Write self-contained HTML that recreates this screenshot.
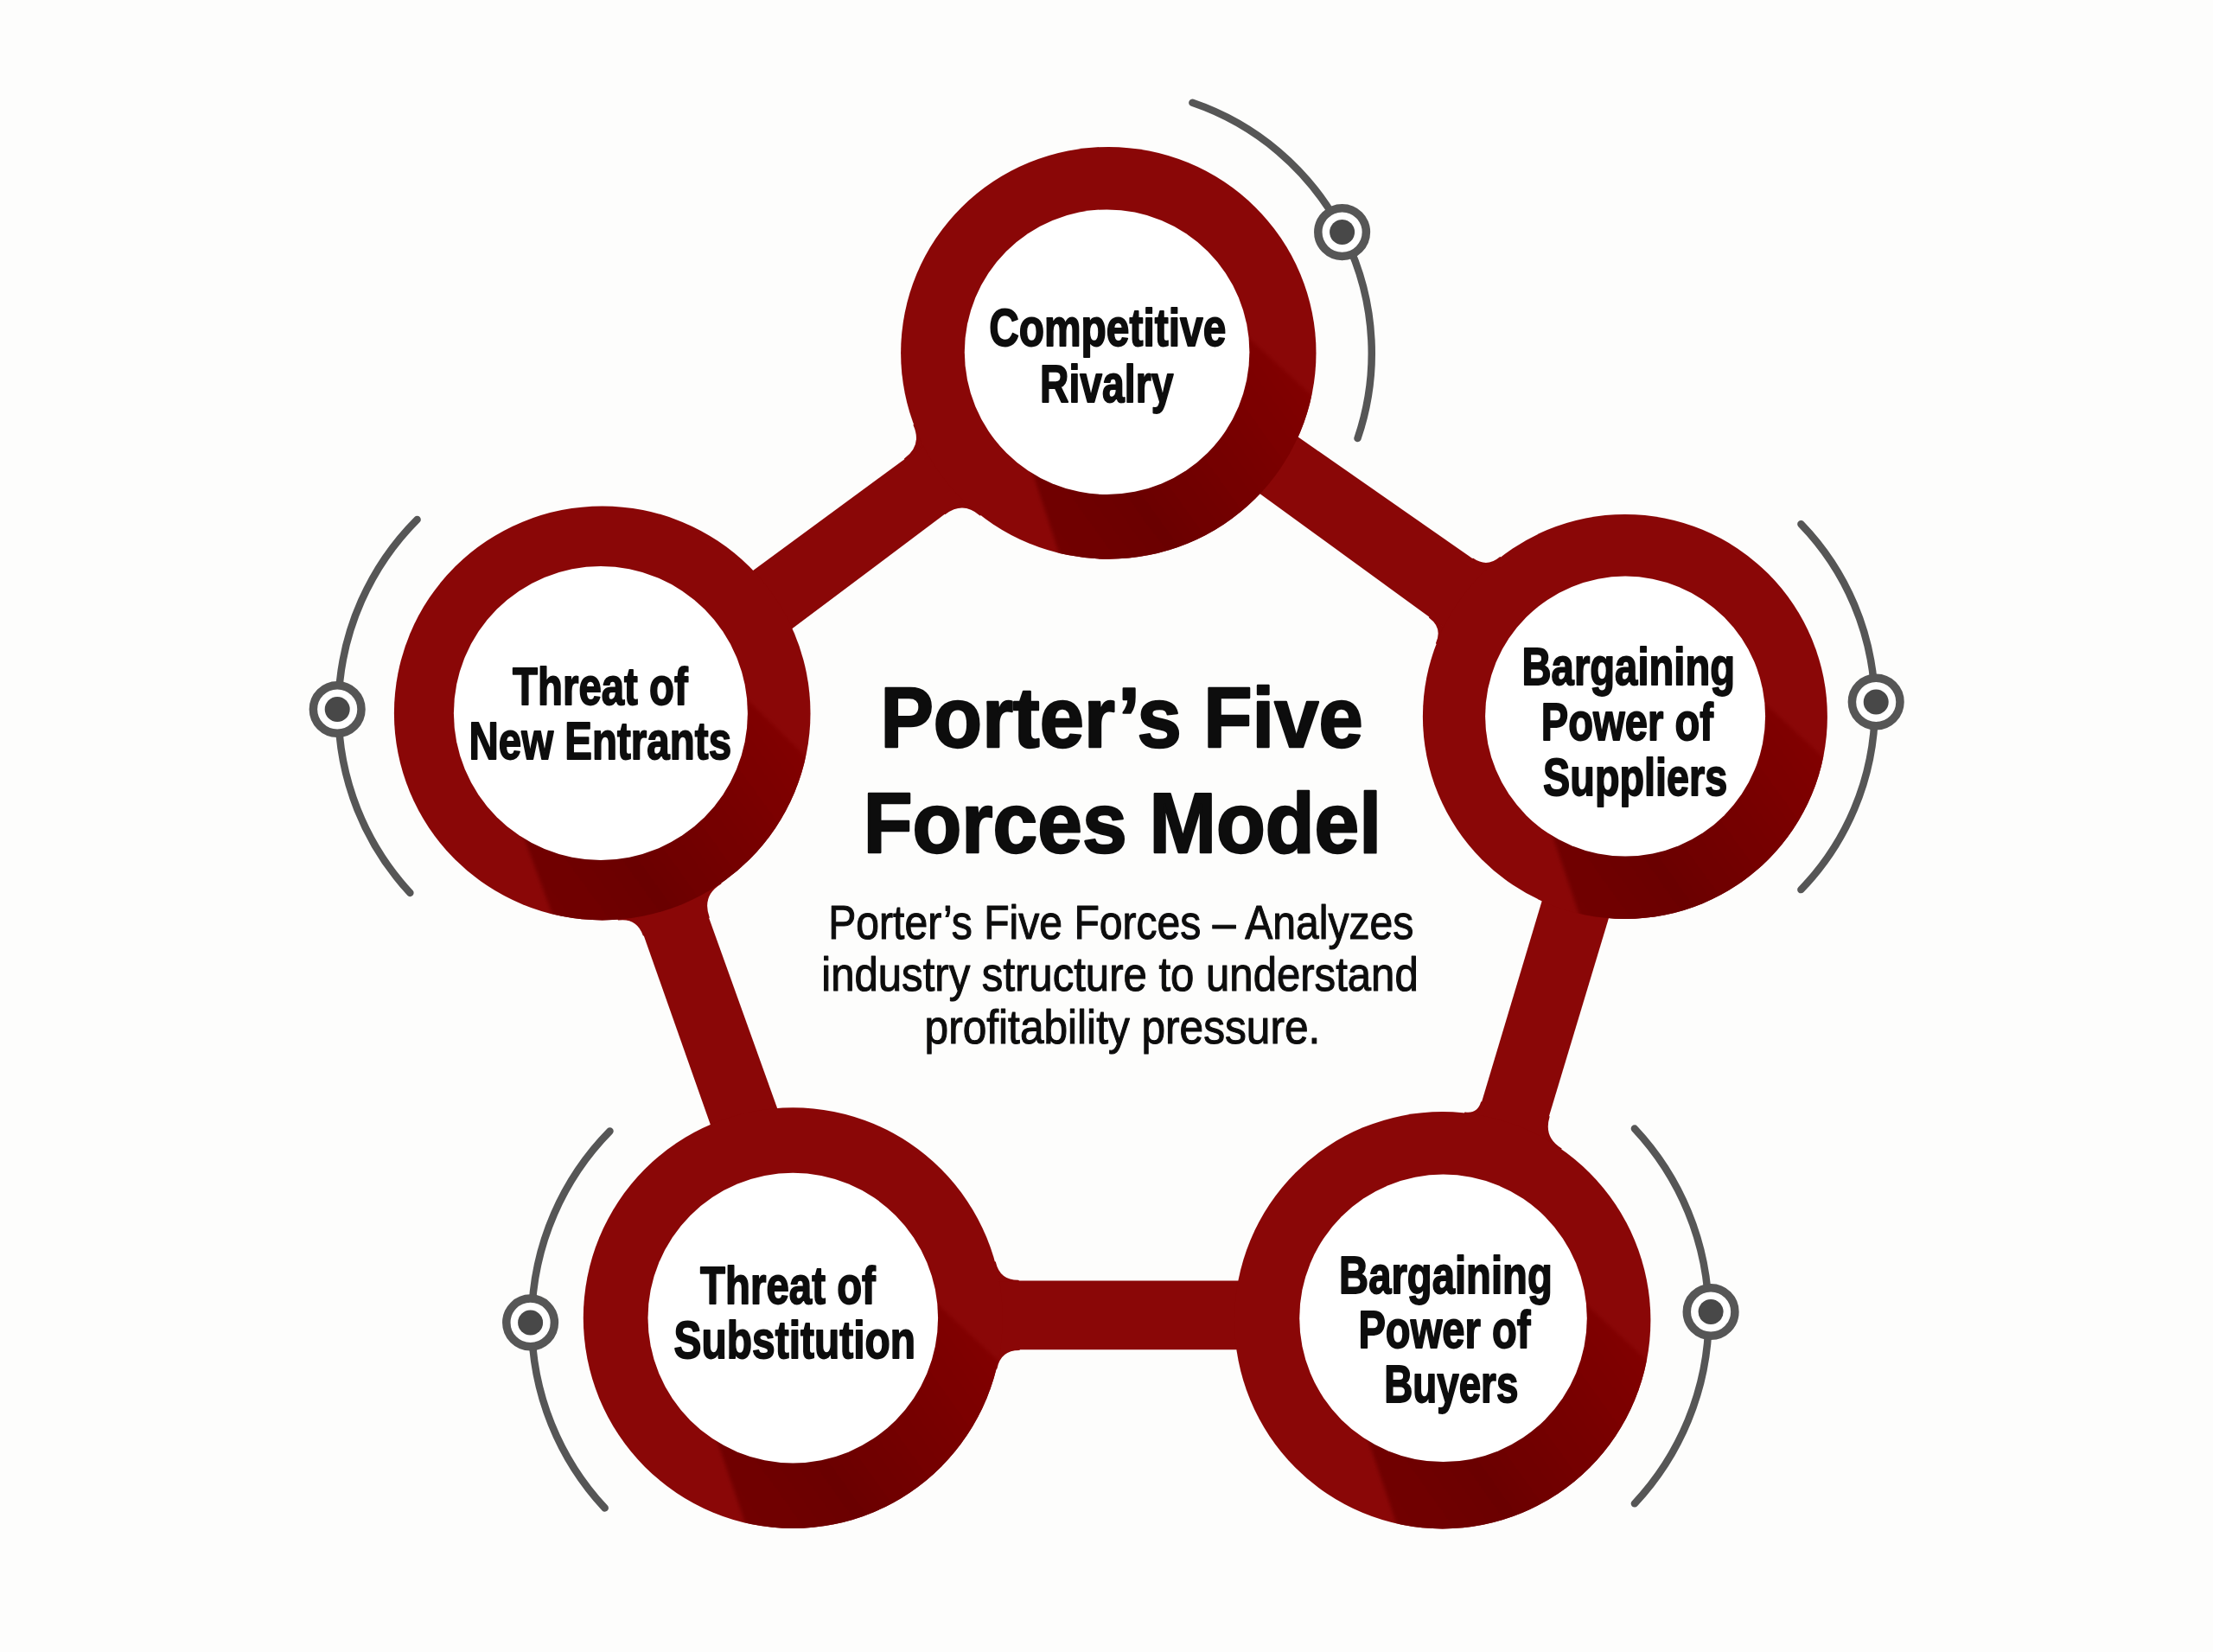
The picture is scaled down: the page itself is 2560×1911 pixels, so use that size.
<!DOCTYPE html>
<html lang="en">
<head>
<meta charset="utf-8">
<title>Porter’s Five Forces Model</title>
<style>
html,body{margin:0;padding:0;background:#fdfdfc;}
body{width:2560px;height:1911px;overflow:hidden;font-family:"Liberation Sans",sans-serif;}
svg{display:block;}
</style>
</head>
<body>
<svg width="2560" height="1911" viewBox="0 0 2560 1911">
<defs>
<clipPath id="cp-top"><ellipse cx="1282.3" cy="408.3" rx="240.2" ry="238.4"/></clipPath>
<clipPath id="cp-right"><ellipse cx="1879.9" cy="829" rx="234" ry="234"/></clipPath>
<clipPath id="cp-br"><ellipse cx="1668.7" cy="1527.2" rx="240.7" ry="241.2"/></clipPath>
<clipPath id="cp-bl"><ellipse cx="917.3" cy="1524.6" rx="242.5" ry="243.3"/></clipPath>
<clipPath id="cp-left"><ellipse cx="696.7" cy="824.9" rx="240.8" ry="239.5"/></clipPath>
<filter id="soft" x="-5%" y="-5%" width="110%" height="110%"><feGaussianBlur stdDeviation="2.2"/></filter>
</defs>
<rect width="2560" height="1911" fill="#fdfdfc"/>
<g fill="#8a0707">
<path d="M1406.9 439.4L1809.5 720.2L1759.3 790.8L1362.5 502.1Z"/>
<path d="M1815.8 935.1L1675.3 1403.9L1751.1 1426.7L1892.3 958.1Z"/>
<path d="M1548.7 1481.6L1037.3 1481.6L1037.3 1561.3L1548.7 1561.3Z"/>
<path d="M862.6 1416.6L698.6 951.5L771.2 925.6L937.8 1389.7Z"/>
<path d="M775.9 730.1L1161.5 446.6L1207.6 508.6L824.9 795.8Z"/>
<path stroke="#8a0707" stroke-width="1.6" stroke-linejoin="round" d="M1703.8 646.5L1720.3 657.9L1735.4 644.9Q1720.3 657.9 1703.8 646.5ZM1653.7 714L1669.9 725.8L1661.8 744.1Q1669.9 725.8 1653.7 714ZM1713.9 1275.1L1709.6 1289.5L1694.8 1287.4Q1709.6 1289.5 1713.9 1275.1ZM1791.8 1291.8L1784.6 1315.8L1805.8 1328.9Q1784.6 1315.8 1791.8 1291.8ZM1178 1481.6L1156 1481.6L1151.1 1460.1Q1156 1481.6 1178 1481.6ZM1179 1561.3L1157 1561.3L1152.7 1582.9Q1157 1561.3 1179 1561.3ZM744.5 1081.7L737.2 1061L715.3 1063.7Q737.2 1061 744.5 1081.7ZM819.9 1061.2L810.8 1035.8L833.8 1021.8Q810.8 1035.8 819.9 1061.2ZM1046.8 530.9L1067.8 515.5L1057.3 491.8Q1067.8 515.5 1046.8 530.9ZM1093.4 594.2L1114.2 578.6L1133.8 595.7Q1114.2 578.6 1093.4 594.2Z"/>
</g>
<ellipse cx="1282.3" cy="408.3" rx="240.2" ry="238.4" fill="#8a0707"/>
<linearGradient id="sg-top" gradientUnits="userSpaceOnUse" x1="1470.6" y1="397.2" x2="1170.6" y2="612.2"><stop offset="0" stop-color="#810606"/><stop offset="0.62" stop-color="#6b0202"/><stop offset="1" stop-color="#730303"/></linearGradient>
<path clip-path="url(#cp-top)" filter="url(#soft)" fill="url(#sg-top)" d="M1280.6 407.2L1437.9 385.1L1637 566.2L1700.6 827.2L1277.6 799.7L1191.8 538.9Z"/>
<circle cx="1280.6" cy="407.2" r="164.8" fill="#ffffff"/>
<ellipse cx="1879.9" cy="829" rx="234" ry="234" fill="#8a0707"/>
<linearGradient id="sg-right" gradientUnits="userSpaceOnUse" x1="2070.1" y1="818.6" x2="1770.1" y2="1033.6"><stop offset="0" stop-color="#810606"/><stop offset="0.62" stop-color="#6b0202"/><stop offset="1" stop-color="#730303"/></linearGradient>
<path clip-path="url(#cp-right)" filter="url(#soft)" fill="url(#sg-right)" d="M1880.1 828.6L2034.6 806.9L2225.5 983.8L2300.1 1248.6L1878.2 1209.5L1792.9 957.9Z"/>
<circle cx="1880.1" cy="828.6" r="162" fill="#ffffff"/>
<ellipse cx="1668.7" cy="1527.2" rx="240.7" ry="241.2" fill="#8a0707"/>
<linearGradient id="sg-br" gradientUnits="userSpaceOnUse" x1="1859.5" y1="1514.8" x2="1559.5" y2="1729.8"><stop offset="0" stop-color="#810606"/><stop offset="0.62" stop-color="#6b0202"/><stop offset="1" stop-color="#730303"/></linearGradient>
<path clip-path="url(#cp-br)" filter="url(#soft)" fill="url(#sg-br)" d="M1669.5 1524.8L1828.2 1502.5L2024.9 1684.4L2089.5 1944.8L1667.5 1916.7L1579.9 1657.7Z"/>
<circle cx="1669.5" cy="1524.8" r="166.3" fill="#ffffff"/>
<ellipse cx="917.3" cy="1524.6" rx="242.5" ry="243.3" fill="#8a0707"/>
<linearGradient id="sg-bl" gradientUnits="userSpaceOnUse" x1="1107.3" y1="1514.6" x2="807.3" y2="1729.6"><stop offset="0" stop-color="#810606"/><stop offset="0.62" stop-color="#6b0202"/><stop offset="1" stop-color="#730303"/></linearGradient>
<path clip-path="url(#cp-bl)" filter="url(#soft)" fill="url(#sg-bl)" d="M917.3 1524.6L1077.5 1502.1L1274.9 1685.5L1337.3 1944.6L915.5 1919L826.8 1658.7Z"/>
<circle cx="917.3" cy="1524.6" r="167.8" fill="#ffffff"/>
<ellipse cx="696.7" cy="824.9" rx="240.8" ry="239.5" fill="#8a0707"/>
<linearGradient id="sg-left" gradientUnits="userSpaceOnUse" x1="884.9" y1="815" x2="584.9" y2="1030"><stop offset="0" stop-color="#810606"/><stop offset="0.62" stop-color="#6b0202"/><stop offset="1" stop-color="#730303"/></linearGradient>
<path clip-path="url(#cp-left)" filter="url(#soft)" fill="url(#sg-left)" d="M694.9 825L857.3 802.2L1045 985.4L1114.9 1245L695.9 1212.5L603.2 961Z"/>
<circle cx="694.9" cy="825" r="170" fill="#ffffff"/>
<g fill="none" stroke="#565656" stroke-width="8.5" stroke-linecap="round">
<path d="M1379.4 118.8A306.1 306.1 0 0 1 1570.5 507"/>
<path d="M2083.4 606.2A304.3 304.3 0 0 1 2083.4 1029.1"/>
<path d="M1890.9 1305.6A317.1 317.1 0 0 1 1890.9 1739.3"/>
<path d="M705.5 1308.5A315.2 315.2 0 0 0 699.7 1744.5"/>
<path d="M482.6 600.9A311.6 311.6 0 0 0 474.4 1032.9"/>
</g>
<circle cx="1552.6" cy="268.6" r="27.8" fill="#ffffff" stroke="#565656" stroke-width="9.5"/>
<circle cx="1552.6" cy="268.6" r="14.5" fill="#484848"/>
<circle cx="2170.2" cy="812" r="27.8" fill="#ffffff" stroke="#565656" stroke-width="9.5"/>
<circle cx="2170.2" cy="812" r="14.5" fill="#484848"/>
<circle cx="1979.1" cy="1517.5" r="27.8" fill="#ffffff" stroke="#565656" stroke-width="9.5"/>
<circle cx="1979.1" cy="1517.5" r="14.5" fill="#484848"/>
<circle cx="613.6" cy="1529.9" r="27.8" fill="#ffffff" stroke="#565656" stroke-width="9.5"/>
<circle cx="613.6" cy="1529.9" r="14.5" fill="#484848"/>
<circle cx="390.2" cy="820.5" r="27.8" fill="#ffffff" stroke="#565656" stroke-width="9.5"/>
<circle cx="390.2" cy="820.5" r="14.5" fill="#484848"/>
<g font-family="'Liberation Sans', sans-serif" fill="#0d0d0d" stroke="#0d0d0d" stroke-linejoin="round">
<text id="t0" x="1144.2" y="400.1" font-size="60.5" font-weight="bold" stroke-width="1.8" textLength="274.1" lengthAdjust="spacingAndGlyphs">Competitive</text>
<text id="t1" x="1203.1" y="464.5" font-size="60.5" font-weight="bold" stroke-width="1.8" textLength="154.3" lengthAdjust="spacingAndGlyphs">Rivalry</text>
<text id="t2" x="1760.5" y="791.9" font-size="60.5" font-weight="bold" stroke-width="1.8" textLength="246.7" lengthAdjust="spacingAndGlyphs">Bargaining</text>
<text id="t3" x="1782.8" y="856.3" font-size="60.5" font-weight="bold" stroke-width="1.8" textLength="199.1" lengthAdjust="spacingAndGlyphs">Power of</text>
<text id="t4" x="1785.1" y="920.3" font-size="60.5" font-weight="bold" stroke-width="1.8" textLength="213.2" lengthAdjust="spacingAndGlyphs">Suppliers</text>
<text id="t5" x="1549.1" y="1495.6" font-size="60.5" font-weight="bold" stroke-width="1.8" textLength="246.7" lengthAdjust="spacingAndGlyphs">Bargaining</text>
<text id="t6" x="1571.4" y="1559.2" font-size="60.5" font-weight="bold" stroke-width="1.8" textLength="199.1" lengthAdjust="spacingAndGlyphs">Power of</text>
<text id="t7" x="1601.2" y="1621.9" font-size="60.5" font-weight="bold" stroke-width="1.8" textLength="155.2" lengthAdjust="spacingAndGlyphs">Buyers</text>
<text id="t8" x="810.1" y="1508" font-size="60.5" font-weight="bold" stroke-width="1.8" textLength="202.8" lengthAdjust="spacingAndGlyphs">Threat of</text>
<text id="t9" x="779.6" y="1571.2" font-size="60.5" font-weight="bold" stroke-width="1.8" textLength="279.4" lengthAdjust="spacingAndGlyphs">Substitution</text>
<text id="t10" x="593.1" y="814.6" font-size="60.5" font-weight="bold" stroke-width="1.8" textLength="202.6" lengthAdjust="spacingAndGlyphs">Threat of</text>
<text id="t11" x="542.4" y="878" font-size="60.5" font-weight="bold" stroke-width="1.8" textLength="303.7" lengthAdjust="spacingAndGlyphs">New Entrants</text>
<text id="t12" x="1018.4" y="863.6" font-size="99" font-weight="bold" stroke-width="2.4" textLength="558.3" lengthAdjust="spacingAndGlyphs">Porter’s Five</text>
<text id="t13" x="998.7" y="985.9" font-size="99" font-weight="bold" stroke-width="2.4" textLength="599.4" lengthAdjust="spacingAndGlyphs">Forces Model</text>
<text id="t14" x="958.2" y="1085.9" font-size="55" font-weight="normal" stroke-width="1.1" textLength="677.2" lengthAdjust="spacingAndGlyphs">Porter’s Five Forces – Analyzes</text>
<text id="t15" x="950.3" y="1146" font-size="55" font-weight="normal" stroke-width="1.1" textLength="690.4" lengthAdjust="spacingAndGlyphs">industry structure to understand</text>
<text id="t16" x="1069.6" y="1207.2" font-size="55" font-weight="normal" stroke-width="1.1" textLength="457.7" lengthAdjust="spacingAndGlyphs">profitability pressure.</text>
</g>
</svg>
</body>
</html>
